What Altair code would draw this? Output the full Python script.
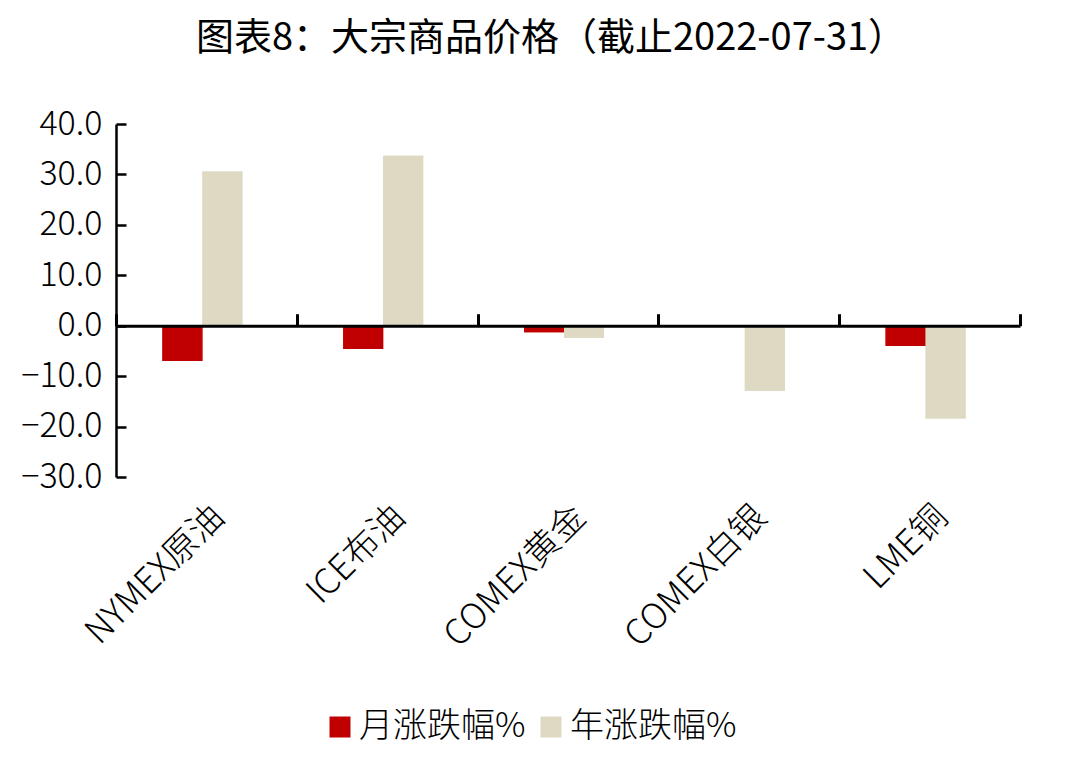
import altair as alt
import pandas as pd

categories = ["NYMEX原油", "ICE布油", "COMEX黄金", "COMEX白银", "LME铜"]
monthly = [-7.0, -4.6, -1.3, -0.2, -4.0]
annual = [30.6, 33.7, -2.4, -12.9, -18.4]
series = ["月涨跌幅%", "年涨跌幅%"]
colors = ["#C00000", "#DDD9C3"]
y_ticks = [40, 30, 20, 10, 0, -10, -20, -30]

rows = []
for c, m, a in zip(categories, monthly, annual):
    rows.append({"cat": c, "series": series[0], "value": m})
    rows.append({"cat": c, "series": series[1], "value": a})
df = pd.DataFrame(rows)

W, H = 904, 353
YMIN, YMAX = -30, 40
zero_px = H * YMAX / (YMAX - YMIN)
step = W / len(categories)
BARW = 40
FONT = "Noto Sans CJK SC"

xscale = alt.Scale(domain=categories, paddingInner=0, paddingOuter=0)
yscale = alt.Scale(domain=[YMIN, YMAX], nice=False, zero=False)
cscale = alt.Scale(domain=series, range=colors)
offscale = alt.Scale(domain=series, paddingInner=0, paddingOuter=0,
                     range=[step / 2 - BARW - 4, step / 2 + BARW - 4])

base = alt.Chart(df)

bars = base.mark_bar().encode(
    x=alt.X("cat:N", scale=xscale, sort=categories,
            axis=alt.Axis(orient="bottom", title=None, domain=False, ticks=False,
                          grid=False, labelAngle=-45, labelFont=FONT,
                          labelFontSize=35, labelFontWeight=300, labelLimit=500,
                          labelColor="#000000", labelPadding=22)),
    xOffset=alt.XOffset("series:N", scale=offscale, sort=series),
    y=alt.Y("value:Q", scale=yscale,
            axis=alt.Axis(orient="left", title=None, values=y_ticks, format=".1f",
                          ticks=False, grid=False, domain=True, domainColor="#000000",
                          domainWidth=2.5, labelFont=FONT, labelFontSize=34,
                          labelFontWeight=300,
                          labelColor="#000000", labelPadding=14)),
    color=alt.Color("series:N", scale=cscale, sort=series,
                    legend=alt.Legend(title=None, orient="none", direction="horizontal",
                                      legendX=207, legendY=586, symbolType="square",
                                      symbolSize=441, symbolStrokeWidth=0,
                                      labelFont=FONT, labelFontSize=34,
                                      labelFontWeight=300, labelLimit=500,
                                      labelColor="#000000", columnPadding=8,
                                      labelOffset=2)),
)

axes_layer = base.mark_bar().encode(
    x=alt.X("cat:N", scale=xscale, sort=categories,
            axis=alt.Axis(orient="top", title=None, labels=False, domain=True,
                          grid=False, domainColor="#000000", domainWidth=3,
                          ticks=True, tickColor="#000000", tickWidth=3, tickSize=12,
                          tickBand="extent", offset=-zero_px, zindex=1)),
    xOffset=alt.XOffset("series:N", scale=offscale, sort=series),
    y=alt.Y("value:Q", scale=yscale,
            axis=alt.Axis(orient="right", title=None, labels=False, values=y_ticks,
                          grid=False, domain=False, ticks=True, tickColor="#000000",
                          tickWidth=2.5, tickSize=10, offset=-W, zindex=1)),
    color=alt.Color("series:N", scale=cscale, sort=series, legend=None),
)

chart = alt.layer(bars, axes_layer).resolve_axis(
    x="independent", y="independent"
).properties(
    width=W, height=H,
    background="#FFFFFF",
    autosize=alt.AutoSizeParams(type="none"),
    padding={"left": 108, "top": 116, "right": 40, "bottom": 272},
    title=alt.TitleParams("图表8：大宗商品价格（截止2022-07-31）", font=FONT,
                          fontSize=38, fontWeight="normal", color="#000000",
                          anchor="middle", offset=49, dx=-17),
).configure_view(stroke="transparent", strokeWidth=0)

chart.save("out.html", embed_options={"renderer": "svg", "actions": False})
